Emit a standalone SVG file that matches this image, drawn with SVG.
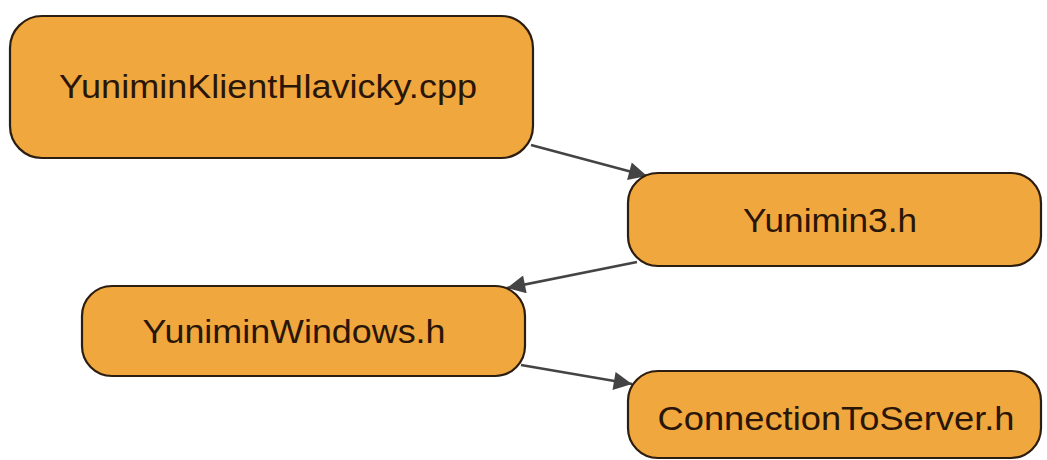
<svg xmlns="http://www.w3.org/2000/svg" width="1047" height="460" viewBox="0 0 1047 460">
<defs>
<style>
.node rect{fill:#F0A73E;stroke:#2b1d10;stroke-width:2.2}
.node text{font-family:"Liberation Sans",Arial,sans-serif;font-size:33px;fill:#2a1608;text-anchor:middle}
.edge{stroke:#444;stroke-width:2.6;fill:none;marker-end:url(#ah)}
</style>
<marker id="ah" viewBox="0 0 10 10" refX="10" refY="5" markerWidth="8" markerHeight="7" markerUnits="strokeWidth" orient="auto">
<path d="M0,0 L10,5 L0,10 z" fill="#444"/>
</marker>
</defs>
<rect width="1047" height="460" fill="#fff"/>
<g id="connectors">
<line class="edge" x1="531" y1="145" x2="647" y2="176"/>
<line class="edge" x1="637" y1="262" x2="507" y2="288"/>
<line class="edge" x1="521" y1="365" x2="632" y2="384"/>
</g>
<g id="n1" class="node">
<rect x="10" y="16" width="523" height="142" rx="32"/>
<text x="268" y="98" textLength="418" lengthAdjust="spacingAndGlyphs">YuniminKlientHlavicky.cpp</text>
</g>
<g id="n2" class="node">
<rect x="628" y="173" width="413" height="93" rx="30"/>
<text x="830" y="232" textLength="174" lengthAdjust="spacingAndGlyphs">Yunimin3.h</text>
</g>
<g id="n3" class="node">
<rect x="82" y="286" width="443" height="90" rx="30"/>
<text x="294" y="343" textLength="303" lengthAdjust="spacingAndGlyphs">YuniminWindows.h</text>
</g>
<g id="n4" class="node">
<rect x="628" y="371" width="413" height="87" rx="30"/>
<text x="836" y="430" textLength="357" lengthAdjust="spacingAndGlyphs">ConnectionToServer.h</text>
</g>
</svg>
